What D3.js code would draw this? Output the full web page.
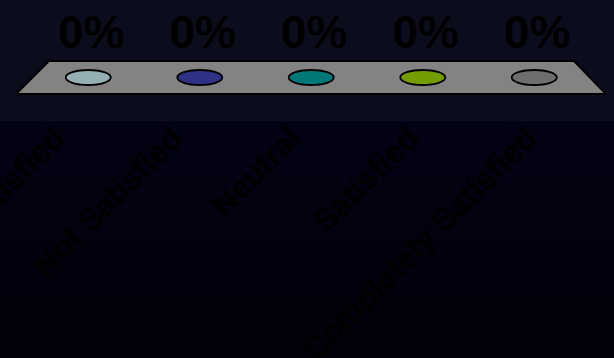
<!DOCTYPE html>
<html>
<head>
<meta charset="utf-8">
<script src="https://cdn.jsdelivr.net/npm/d3@7"></script>
<style>
  html, body { margin: 0; padding: 0; background: #020212; }
  svg { display: block; }
</style>
</head>
<body>
<div id="chart"></div>
<script>
// 数据
const categories = ["Completely Dissatisfied", "Not Satisfied", "Neutral", "Satisfied", "Completely Satisfied"];
const values = [0, 0, 0, 0, 0];
const barColors = ["#95b0b5", "#2e3185", "#007878", "#739c00", "#6e6e6e"];

const width = 614, height = 358;

const svg = d3.select("#chart").append("svg")
  .attr("width", width)
  .attr("height", height);

// 背景渐变
const defs = svg.append("defs");
const bg = defs.append("linearGradient").attr("id", "bg").attr("x1", 0).attr("y1", 0).attr("x2", 0).attr("y2", 1);
bg.append("stop").attr("offset", "0%").attr("stop-color", "#030319");
bg.append("stop").attr("offset", "100%").attr("stop-color", "#01010a");

svg.append("rect").attr("width", width).attr("height", height).attr("fill", "url(#bg)");
svg.append("rect").attr("width", width).attr("height", 121).attr("fill", "#0c0d1c");

// 3D 地板
const floor = { backY: 61, frontY: 94, backL: 49, backR: 574, frontL: 16, frontR: 606 };

svg.append("path")
  .attr("d", `M${floor.backL},${floor.backY}L${floor.backR},${floor.backY}L${floor.frontR},${floor.frontY}L${floor.frontL},${floor.frontY}Z`)
  .attr("fill", "#838383")
  .attr("stroke", "#000")
  .attr("stroke-width", 2)
  .attr("stroke-linejoin", "round");

// 比例尺：中间深度的柱子位置，前沿的标签位置
const midY = (floor.backY + floor.frontY) / 2;
const x = d3.scaleBand()
  .domain(categories)
  .range([(floor.backL + floor.frontL) / 2, (floor.backR + floor.frontR) / 2]);
const xFront = d3.scaleBand()
  .domain(categories)
  .range([floor.frontL, floor.frontR]);

const y = d3.scaleLinear().domain([0, 1]).range([midY, 0]);

const rx = 22.5, ry = 7.5;

const bars = svg.append("g").selectAll("g")
  .data(categories.map((c, i) => ({ c, v: values[i], color: barColors[i] })))
  .join("g");

// 柱身 (值为 0 时高度为 0)
bars.append("rect")
  .attr("x", d => x(d.c) + x.bandwidth() / 2 - rx)
  .attr("y", d => y(d.v))
  .attr("width", rx * 2)
  .attr("height", d => y(0) - y(d.v))
  .attr("fill", d => d.color);

bars.append("ellipse")
  .attr("cx", d => x(d.c) + x.bandwidth() / 2)
  .attr("cy", d => y(d.v))
  .attr("rx", rx)
  .attr("ry", ry)
  .attr("fill", d => d.color)
  .attr("stroke", "#000")
  .attr("stroke-width", 1.8);

// 数值标签
bars.append("text")
  .attr("x", d => x(d.c) + x.bandwidth() / 2 + 3)
  .attr("y", d => y(d.v) - 30)
  .attr("text-anchor", "middle")
  .attr("font-family", "Liberation Sans, Arial, sans-serif")
  .attr("font-weight", "bold")
  .attr("font-size", 46)
  .attr("fill", "#000")
  .text(d => d3.format(".0%")(d.v));

// 分类标签 (旋转 -45°)
svg.append("g").selectAll("text")
  .data(categories)
  .join("text")
  .attr("transform", d => `translate(${xFront(d) + xFront.bandwidth() / 2 - 8},140) rotate(-45)`)
  .attr("text-anchor", "end")
  .attr("font-family", "Liberation Sans, Arial, sans-serif")
  .attr("font-weight", "bold")
  .attr("font-size", 32)
  .attr("fill", "#000")
  .text(d => d);
</script>
</body>
</html>
